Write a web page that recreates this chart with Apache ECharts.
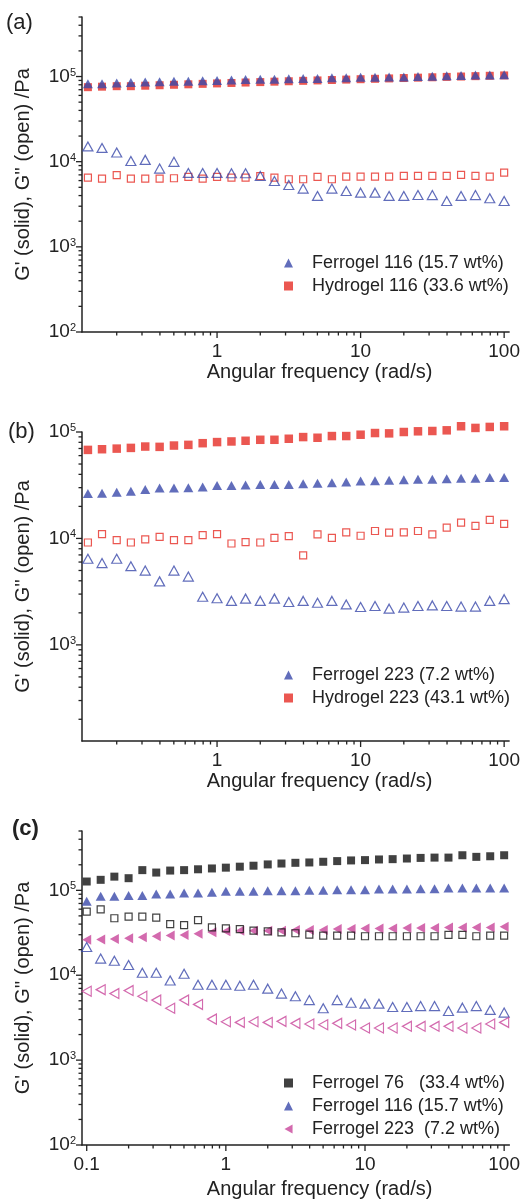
<!DOCTYPE html>
<html>
<head>
<meta charset="utf-8">
<script src="https://cdn.jsdelivr.net/npm/echarts@6/dist/echarts.min.js"></script>
<style>
  html, body { margin: 0; padding: 0; background: #fff; }
  #chart { width: 523px; height: 1200px; }
</style>
</head>
<body>
<div id="chart"></div>
<script>
// angular frequency (rad/s)
const freqAB = [0.126, 0.158, 0.2, 0.251, 0.316, 0.398, 0.501, 0.631, 0.794, 1, 1.26, 1.58, 2, 2.51, 3.16, 3.98, 5.01, 6.31, 7.94, 10, 12.6, 15.8, 20, 25.1, 31.6, 39.8, 50.1, 63.1, 79.4, 100];
const freqC = [0.1, 0.126, 0.158, 0.2, 0.251, 0.316, 0.398, 0.501, 0.631, 0.794, 1, 1.26, 1.58, 2, 2.51, 3.16, 3.98, 5.01, 6.31, 7.94, 10, 12.6, 15.8, 20, 25.1, 31.6, 39.8, 50.1, 63.1, 79.4, 100];

// (a) G' solid, G'' open  (Pa)
const ferro116GpA = [82000, 82000, 84000, 85000, 86000, 87000, 88000, 88000, 89000, 90000, 91000, 92000, 93000, 93000, 94000, 95000, 95000, 97000, 97000, 98000, 98000, 99000, 99000, 100000, 101000, 102000, 103000, 104000, 104000, 105000];
const hydro116GpA = [75000, 76000, 77000, 77000, 78000, 79000, 80000, 81000, 82000, 83000, 84000, 85000, 86000, 87000, 88000, 89000, 90000, 91000, 92000, 93000, 94000, 95000, 96000, 97000, 98000, 99000, 100000, 101000, 102000, 103000];
const ferro116GppA = [15100, 14500, 12800, 10200, 10500, 8300, 9950, 7380, 7380, 7380, 7310, 7310, 6800, 5940, 5330, 4830, 3960, 4830, 4530, 4330, 4330, 3960, 3960, 4060, 4050, 3450, 3960, 4050, 3720, 3450];
const hydro116GppA = [6500, 6340, 6940, 6340, 6340, 6340, 6390, 6630, 6340, 6630, 6500, 6500, 6750, 6500, 6220, 6220, 6630, 6220, 6680, 6680, 6680, 6680, 6800, 6800, 6800, 6800, 7000, 6800, 6680, 7450];

// (b)
const hydro223GpB = [67900, 68900, 69800, 70900, 73000, 72500, 74600, 75700, 78500, 80400, 81500, 82700, 84500, 84500, 86400, 89600, 88300, 91600, 91600, 94300, 97800, 97100, 100000, 101500, 102200, 103700, 113200, 109200, 111600, 113200];
const ferro223GpB = [26400, 26600, 27100, 27800, 28800, 29700, 29700, 29900, 30500, 31500, 31500, 31700, 32200, 32200, 32200, 32700, 33000, 33400, 33900, 34700, 34900, 35200, 35500, 35900, 35900, 36400, 36700, 36700, 37300, 37300];
const hydro223GppB = [9160, 10990, 9640, 9160, 9780, 10360, 9640, 9640, 10760, 10990, 8960, 9220, 9160, 10140, 10510, 6940, 10910, 10140, 11400, 10600, 11750, 11330, 11400, 11750, 10910, 12640, 14100, 13100, 14960, 13700];
const ferro223GppB = [6450, 5870, 6450, 5490, 4990, 3950, 4990, 4380, 2830, 2740, 2590, 2720, 2590, 2720, 2530, 2590, 2490, 2590, 2400, 2270, 2320, 2190, 2240, 2320, 2350, 2320, 2290, 2290, 2590, 2690];

// (c)
const ferro76GpC = [127000, 133000, 145000, 139000, 173000, 162000, 171000, 173000, 177000, 181000, 185000, 190000, 195000, 202000, 207000, 211000, 213000, 217000, 221000, 225000, 227000, 231000, 233000, 237000, 241000, 243000, 243000, 259000, 248000, 252000, 259000];
const ferro116GpC = [74600, 85200, 85200, 86700, 86700, 90700, 90700, 93100, 93100, 94800, 97400, 97400, 97400, 99100, 99100, 99100, 100000, 100000, 101800, 101800, 101800, 103600, 103600, 103600, 104500, 104500, 106400, 106400, 106400, 106400, 106400];
const ferro223GpC = [26100, 26300, 26800, 27300, 28100, 28700, 29300, 29800, 30700, 32000, 32900, 33500, 33500, 33500, 33500, 34100, 34100, 34100, 35000, 35000, 35600, 35600, 35600, 35900, 35900, 35900, 36600, 36600, 36600, 36600, 37300];
const ferro76GppC = [56100, 59700, 46900, 49100, 49100, 47800, 40000, 38900, 44500, 36600, 35600, 35000, 33500, 32900, 32000, 31200, 30100, 29300, 29300, 29300, 28800, 28800, 28800, 28800, 28800, 28800, 29800, 29800, 28800, 29300, 29300];
const ferro116GppC = [21500, 15700, 14800, 13200, 10700, 10700, 8670, 10400, 7730, 7730, 7730, 7520, 7730, 6950, 6080, 5660, 5090, 4080, 5090, 4740, 4620, 4620, 4220, 4220, 4330, 4330, 3790, 4150, 4330, 3900, 3630];
const ferro223GppC = [6470, 6760, 6080, 6590, 5660, 5090, 4080, 5090, 4530, 3040, 2830, 2780, 2830, 2780, 2860, 2710, 2660, 2610, 2710, 2590, 2390, 2390, 2390, 2500, 2500, 2500, 2500, 2390, 2390, 2660, 2780];

// axis ticks (log axes, drawn by hand so the 2..9 minor ticks sit in the right place)
const xMajor = [0.1, 1, 10, 100];
const xMinor = [0.2, 0.3, 0.4, 0.5, 0.6, 0.7, 0.8, 0.9, 2, 3, 4, 5, 6, 7, 8, 9, 20, 30, 40, 50, 60, 70, 80, 90];
const yMajor = [100, 1000, 10000, 100000];
const yMinor = [200, 300, 400, 500, 600, 700, 800, 900, 2000, 3000, 4000, 5000, 6000, 7000, 8000, 9000,
  20000, 30000, 40000, 50000, 60000, 70000, 80000, 90000, 200000, 300000, 400000, 500000];

const FONT = 'Liberation Sans, Arial, Helvetica, sans-serif';
const BLUE = '#3a48aa';
const RED = '#e62d26';
const BLACK = '#111111';
const MAGENTA = '#c8459a';
// left pointing triangle for the Ferrogel 223 legend entry in (c)
const LEFT_TRI = 'path://M0,5L9,0L9,10Z';

const panels = [
  { grid: { left: 82, top: 17, width: 430, height: 315 }, x: [0.1146, 108.3], y: [100, 500000], nameGap: 30 },
  { grid: { left: 82, top: 432, width: 430, height: 309 }, x: [0.1146, 108.3], y: [125, 100000], nameGap: 30 },
  { grid: { left: 82, top: 831, width: 430, height: 314 }, x: [0.0925, 109], y: [100, 500000], nameGap: 34 }
];

const isPow10 = v => Math.abs(Math.log10(v) - Math.round(Math.log10(v))) < 1e-6;

const pts = (xs, ys) => xs.map((x, i) => [x, ys[i]]);

function scatter(name, idx, xs, ys, color, symbol, size, open, rotate) {
  return {
    type: 'scatter',
    name: name,
    xAxisIndex: idx,
    yAxisIndex: idx,
    data: pts(xs, ys),
    symbol: symbol,
    symbolSize: size,
    symbolRotate: rotate || 0,
    clip: false,
    silent: true,
    itemStyle: open
      ? { color: 'none', borderColor: color, borderWidth: 1.2 }
      : { color: color },
    z: 3
  };
}

function tickSeries(idx) {
  const p = panels[idx];
  const data = [];
  xMajor.concat(xMinor).forEach(v => {
    if (v >= p.x[0] && v <= p.x[1]) data.push([v, 1000, 0, xMajor.includes(v) ? 1 : 0]);
  });
  yMajor.concat(yMinor).forEach(v => {
    if (v >= p.y[0] && v <= p.y[1]) data.push([1, v, 1, yMajor.includes(v) ? 1 : 0]);
  });
  return {
    type: 'custom',
    xAxisIndex: idx,
    yAxisIndex: idx,
    silent: true,
    encode: { x: 0, y: 1 },
    data: data,
    renderItem: (params, api) => {
      const cs = params.coordSys;
      const len = api.value(3) ? 6 : 3.5;
      const pt = api.coord([api.value(0), api.value(1)]);
      let shape;
      if (api.value(2) === 0) {
        const y0 = cs.y + cs.height;
        shape = { x1: pt[0], y1: y0, x2: pt[0], y2: y0 + len };
      } else {
        shape = { x1: cs.x, y1: pt[1], x2: cs.x - len, y2: pt[1] };
      }
      return { type: 'line', shape: shape, style: { stroke: '#222', lineWidth: 1.3 } };
    }
  };
}

const chart = echarts.init(document.getElementById('chart'), null, { renderer: 'canvas' });

const option = {
  backgroundColor: '#fff',
  animation: false,
  textStyle: { fontFamily: FONT },
  grid: panels.map(p => p.grid),
  xAxis: panels.map((p, i) => ({
    type: 'log',
    gridIndex: i,
    min: p.x[0],
    max: p.x[1],
    name: 'Angular frequency (rad/s)',
    nameLocation: 'middle',
    nameGap: p.nameGap,
    nameTextStyle: { fontSize: 20, color: '#222', fontFamily: FONT, padding: [0, 0, 0, 48] },
    axisLine: { lineStyle: { color: '#222', width: 1.5 } },
    axisTick: { show: false },
    splitLine: { show: false },
    axisLabel: {
      margin: 10,
      fontSize: 19,
      color: '#222',
      fontFamily: FONT,
      formatter: v => (isPow10(v) ? String(+v.toPrecision(3)) : '')
    }
  })),
  yAxis: panels.map((p, i) => ({
    type: 'log',
    gridIndex: i,
    min: p.y[0],
    max: p.y[1],
    name: "G' (solid), G'' (open) /Pa",
    nameLocation: 'middle',
    nameRotate: 90,
    nameGap: 49,
    nameTextStyle: { fontSize: 20, color: '#222', fontFamily: FONT },
    axisLine: { lineStyle: { color: '#222', width: 1.5 } },
    axisTick: { show: false },
    splitLine: { show: false },
    axisLabel: {
      margin: 6,
      color: '#222',
      fontFamily: FONT,
      formatter: v => (isPow10(v) ? '{b|10}{s|' + Math.round(Math.log10(v)) + '}' : ''),
      rich: {
        b: { fontSize: 19, color: '#222', fontFamily: FONT },
        s: { fontSize: 11, color: '#222', fontFamily: FONT, verticalAlign: 'top' }
      }
    }
  })),
  legend: [
    { top: 249, data: ['a Ferrogel 116 (15.7 wt%)', 'a Hydrogel 116 (33.6 wt%)'] },
    { top: 661, data: ['b Ferrogel 223 (7.2 wt%)', 'b Hydrogel 223 (43.1 wt%)'] },
    {
      top: 1069,
      data: ['c Ferrogel 76   (33.4 wt%)', 'c Ferrogel 116 (15.7 wt%)',
        { name: 'c Ferrogel 223  (7.2 wt%)', icon: LEFT_TRI }]
    }
  ].map(l => Object.assign({
    left: 279,
    orient: 'vertical',
    itemWidth: 9,
    itemHeight: 9,
    itemGap: 5,
    selectedMode: false,
    formatter: n => '{p|}' + n.slice(2),
    textStyle: {
      fontSize: 18,
      color: '#222',
      fontFamily: FONT,
      rich: { p: { width: 14 } }
    }
  }, l)),
  graphic: [
    { type: 'text', left: 6, top: 12, style: { text: '(a)', font: '22px ' + FONT, fill: '#222' } },
    { type: 'text', left: 8, top: 421, style: { text: '(b)', font: '22px ' + FONT, fill: '#222' } },
    { type: 'text', left: 12, top: 818, style: { text: '(c)', font: 'bold 22px ' + FONT, fill: '#222' } }
  ],
  series: [
    tickSeries(0), tickSeries(1), tickSeries(2),
    // (a)
    scatter('a Hydrogel 116 (33.6 wt%)', 0, freqAB, hydro116GpA, RED, 'rect', 8, false),
    scatter('a Ferrogel 116 (15.7 wt%)', 0, freqAB, ferro116GpA, BLUE, 'triangle', [10, 9], false),
    scatter("a Hydrogel 116 G''", 0, freqAB, hydro116GppA, RED, 'rect', 7, true),
    scatter("a Ferrogel 116 G''", 0, freqAB, ferro116GppA, BLUE, 'triangle', [10, 9], true),
    // (b)
    scatter('b Hydrogel 223 (43.1 wt%)', 1, freqAB, hydro223GpB, RED, 'rect', 8.5, false),
    scatter('b Ferrogel 223 (7.2 wt%)', 1, freqAB, ferro223GpB, BLUE, 'triangle', [10, 9], false),
    scatter("b Hydrogel 223 G''", 1, freqAB, hydro223GppB, RED, 'rect', 7, true),
    scatter("b Ferrogel 223 G''", 1, freqAB, ferro223GppB, BLUE, 'triangle', [10, 9], true),
    // (c)
    scatter('c Ferrogel 76   (33.4 wt%)', 2, freqC, ferro76GpC, BLACK, 'rect', 8, false),
    scatter('c Ferrogel 116 (15.7 wt%)', 2, freqC, ferro116GpC, BLUE, 'triangle', [10, 9], false),
    scatter('c Ferrogel 223  (7.2 wt%)', 2, freqC, ferro223GpC, MAGENTA, 'triangle', [10, 9], false, 90),
    scatter("c Ferrogel 76 G''", 2, freqC, ferro76GppC, BLACK, 'rect', 7, true),
    scatter("c Ferrogel 116 G''", 2, freqC, ferro116GppC, BLUE, 'triangle', [10, 9], true),
    scatter("c Ferrogel 223 G''", 2, freqC, ferro223GppC, MAGENTA, 'triangle', [10, 9], true, 90)
  ]
};

chart.setOption(option);
</script>
</body>
</html>
